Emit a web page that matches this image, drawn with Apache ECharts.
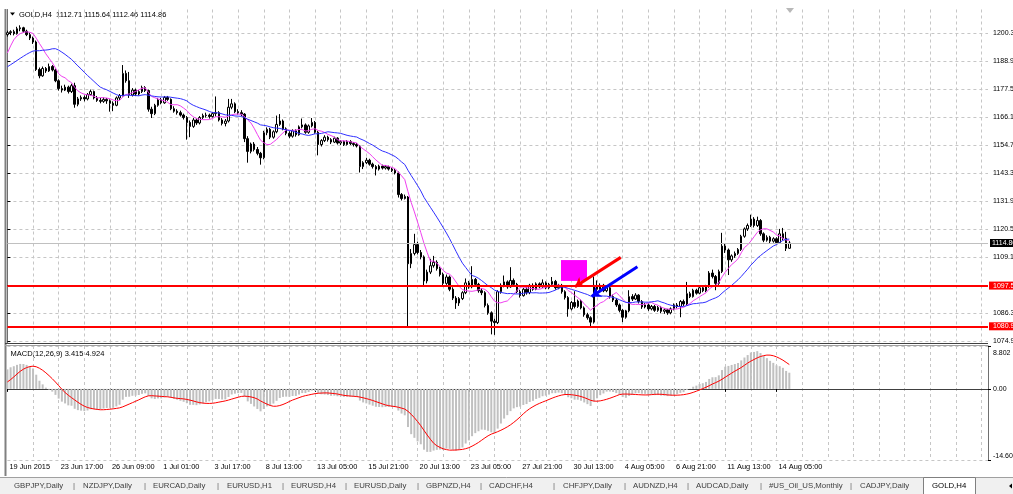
<!DOCTYPE html>
<html>
<head>
<meta charset="utf-8">
<script src="https://cdn.jsdelivr.net/npm/echarts@6.0.0/dist/echarts.min.js"></script>
<style>
html,body{margin:0;padding:0;background:#fff;}
#main{width:1013px;height:494px;}
</style>
</head>
<body>
<div id="main"></div>
<script>
// GOLD,H4 bars (bar 0 = 19 Jun 2015)
var opens = [
1199.8,1200.6,1201.0,1200.2,1202.2,1202.6,1201.2,1199.8,1198.4,1196.8,
1185.6,1183.0,1186.0,1185.0,1186.8,1185.4,1181.0,1177.8,1177.2,1178.4,
1176.6,1179.0,1171.4,1173.6,1174.2,1173.6,1175.4,1176.6,1174.0,1173.0,
1172.6,1173.4,1172.8,1171.8,1171.0,1174.0,1175.0,1184.0,1181.0,1175.2,
1177.2,1175.6,1176.6,1178.2,1177.0,1169.4,1167.6,1171.0,1173.2,1172.0,
1174.2,1173.4,1169.6,1168.6,1168.0,1167.0,1166.0,1164.0,1162.4,1165.0,
1163.8,1166.0,1166.8,1167.0,1166.4,1167.6,1168.0,1165.0,1163.6,1164.6,
1170.2,1171.6,1168.4,1168.0,1167.4,1157.4,1152.2,1155.2,1153.0,1151.4,
1149.6,1159.8,1161.2,1158.0,1160.2,1163.2,1164.6,1161.4,1159.6,1158.4,
1160.6,1159.0,1162.2,1163.0,1160.0,1162.6,1164.0,1160.0,1155.0,1156.6,
1158.0,1157.0,1156.0,1157.6,1155.6,1156.2,1155.0,1156.2,1155.4,1155.0,
1154.4,1146.0,1147.6,1148.6,1147.0,1146.0,1145.0,1146.2,1145.4,1146.0,
1145.0,1144.4,1143.4,1134.6,1133.0,1133.6,1106.4,1110.6,1114.2,1111.0,
1109.2,1099.4,1103.0,1105.6,1107.0,1104.4,1102.0,1098.4,1101.0,1096.0,
1092.4,1090.4,1092.2,1094.6,1098.6,1097.0,1100.0,1098.0,1095.4,1094.6,
1089.4,1086.4,1083.0,1082.4,1095.0,1097.6,1099.0,1097.0,1099.6,1098.0,
1095.0,1093.4,1096.0,1094.6,1097.6,1096.0,1098.2,1097.0,1098.6,1096.6,
1098.0,1099.2,1096.6,1097.6,1095.0,1092.6,1088.0,1090.6,1089.0,1091.2,
1088.4,1085.6,1084.4,1082.6,1097.6,1096.0,1097.6,1095.4,1096.6,1093.0,
1091.6,1089.6,1087.4,1084.6,1087.2,1093.0,1092.0,1093.6,1091.0,1088.8,
1089.6,1088.0,1089.0,1087.4,1088.6,1087.0,1087.6,1086.4,1088.0,1089.6,
1089.0,1091.0,1090.0,1094.2,1093.0,1095.6,1094.4,1096.6,1095.4,1097.2,
1102.6,1101.2,1098.4,1103.2,1113.6,1112.0,1108.0,1109.6,1110.6,1112.2,
1117.6,1120.6,1122.0,1124.6,1122.0,1124.0,1118.6,1116.0,1117.2,1115.6,
1116.6,1115.0,1118.6,1116.8,1112.71
];
var highs = [
1201.4,1201.6,1201.8,1203.0,1203.6,1203.0,1201.8,1200.6,1199.0,1197.4,
1186.4,1186.8,1186.6,1188.0,1187.4,1186.0,1181.6,1179.0,1179.4,1179.0,
1179.8,1180.2,1174.4,1175.0,1175.0,1176.0,1177.4,1177.0,1174.8,1174.0,
1174.2,1174.0,1173.4,1172.6,1174.6,1175.6,1187.4,1185.2,1184.6,1178.0,
1177.8,1177.2,1179.0,1178.8,1177.4,1170.4,1171.6,1174.0,1174.0,1174.8,
1174.8,1173.8,1170.6,1169.4,1168.8,1167.6,1166.6,1164.8,1165.8,1165.6,
1166.6,1167.6,1168.0,1167.6,1168.2,1174.6,1168.6,1165.8,1165.4,1173.6,
1173.6,1172.2,1169.4,1169.0,1167.8,1158.4,1155.8,1156.0,1154.0,1152.0,
1160.6,1162.0,1161.8,1160.8,1166.8,1167.4,1165.2,1162.0,1160.4,1161.2,
1161.2,1162.8,1165.6,1163.6,1163.2,1165.8,1164.6,1160.6,1157.2,1158.8,
1158.6,1157.6,1158.2,1158.0,1156.8,1156.6,1156.8,1156.8,1156.0,1155.6,
1154.8,1148.2,1149.6,1149.2,1147.6,1146.6,1146.8,1146.8,1146.6,1146.4,
1145.6,1145.0,1144.0,1135.2,1134.6,1134.0,1112.4,1118.6,1115.4,1112.0,
1109.8,1104.0,1108.4,1109.6,1107.8,1105.2,1102.8,1102.0,1101.6,1096.8,
1093.2,1092.8,1095.2,1100.4,1099.4,1105.4,1100.6,1098.6,1096.4,1095.2,
1090.2,1087.0,1084.0,1095.6,1098.4,1101.6,1099.6,1105.0,1100.4,1098.6,
1095.8,1096.6,1096.8,1098.2,1098.4,1098.8,1098.8,1100.0,1099.2,1098.6,
1101.0,1099.8,1098.2,1098.2,1095.6,1093.2,1091.2,1095.2,1091.8,1091.8,
1089.0,1086.4,1085.0,1101.2,1099.6,1098.4,1098.2,1097.2,1097.2,1093.8,
1092.4,1090.2,1088.0,1087.6,1095.6,1094.0,1094.4,1094.0,1091.6,1090.4,
1090.2,1089.6,1089.6,1089.2,1089.2,1088.2,1088.0,1088.6,1090.2,1090.4,
1091.6,1091.8,1099.0,1095.0,1096.2,1096.2,1097.2,1097.2,1097.8,1103.4,
1104.0,1101.8,1104.0,1119.0,1114.6,1112.6,1110.2,1111.4,1112.8,1118.2,
1121.2,1122.8,1126.4,1125.4,1125.6,1124.6,1119.2,1118.0,1117.8,1117.2,
1117.2,1120.6,1121.0,1119.4,1115.64
];
var lows = [
1199.0,1199.6,1199.5,1199.8,1201.2,1200.6,1199.2,1197.6,1196.0,1185.0,
1182.0,1182.6,1184.2,1184.6,1184.8,1180.4,1177.0,1176.2,1176.8,1175.8,
1176.0,1170.0,1170.6,1172.8,1172.6,1173.0,1175.0,1173.4,1172.4,1171.8,
1172.0,1171.6,1168.4,1168.6,1170.6,1173.2,1174.6,1180.2,1174.0,1174.6,
1174.8,1175.0,1176.0,1176.4,1168.4,1165.8,1167.0,1170.4,1171.4,1171.6,
1172.8,1169.0,1168.0,1167.2,1166.4,1165.2,1157.0,1158.0,1161.8,1163.0,
1163.2,1165.4,1166.0,1165.6,1166.0,1166.4,1164.4,1162.8,1162.4,1164.0,
1169.4,1167.8,1167.2,1166.6,1156.0,1147.6,1151.4,1152.2,1150.6,1146.8,
1149.0,1158.8,1157.2,1157.4,1159.6,1162.6,1160.8,1158.8,1157.6,1157.8,
1158.2,1158.6,1161.6,1159.4,1159.4,1162.0,1159.4,1150.6,1154.2,1156.0,
1156.2,1155.2,1155.6,1155.0,1154.8,1154.4,1154.6,1154.8,1154.2,1153.8,
1143.6,1145.0,1147.0,1146.4,1145.2,1142.4,1144.4,1144.8,1144.8,1144.4,
1143.8,1142.8,1133.4,1132.2,1132.6,1081.0,1104.6,1109.8,1110.2,1108.2,
1097.0,1098.4,1102.2,1104.8,1103.6,1101.2,1097.4,1097.8,1095.2,1091.6,
1088.0,1089.2,1091.6,1094.0,1096.2,1096.4,1097.2,1094.6,1093.6,1088.6,
1085.6,1077.6,1077.4,1081.8,1094.2,1096.8,1096.2,1096.6,1097.4,1094.4,
1092.6,1093.0,1093.8,1094.0,1095.4,1095.6,1096.4,1096.6,1096.0,1096.0,
1097.4,1095.8,1096.0,1094.2,1091.8,1084.8,1087.4,1088.2,1088.4,1087.8,
1084.8,1083.6,1080.2,1082.0,1095.2,1095.4,1094.8,1094.8,1092.2,1090.8,
1088.8,1086.6,1082.6,1084.0,1086.6,1091.2,1091.6,1090.2,1088.0,1088.2,
1087.2,1087.4,1086.8,1086.8,1086.2,1086.0,1085.6,1085.8,1087.4,1088.2,
1084.6,1089.2,1089.4,1092.4,1092.6,1093.8,1094.0,1094.8,1094.8,1096.6,
1100.4,1095.6,1097.8,1102.6,1110.8,1101.8,1107.2,1108.8,1110.0,1111.6,
1117.0,1119.8,1121.4,1121.2,1121.4,1117.8,1115.2,1115.4,1114.8,1115.0,
1114.4,1114.6,1116.0,1111.6,1112.46
];
var closes = [
1200.6,1201.0,1200.2,1202.2,1202.6,1201.2,1199.8,1198.4,1196.8,1185.6,
1183.0,1186.0,1185.0,1186.8,1185.4,1181.0,1177.8,1177.2,1178.4,1176.6,
1179.0,1171.4,1173.6,1174.2,1173.6,1175.4,1176.6,1174.0,1173.0,1172.6,
1173.4,1172.8,1171.8,1171.0,1174.0,1175.0,1184.0,1181.0,1175.2,1177.2,
1175.6,1176.6,1178.2,1177.0,1169.4,1167.6,1171.0,1173.2,1172.0,1174.2,
1173.4,1169.6,1168.6,1168.0,1167.0,1166.0,1164.0,1162.4,1165.0,1163.8,
1166.0,1166.8,1167.0,1166.4,1167.6,1168.0,1165.0,1163.6,1164.6,1170.2,
1171.6,1168.4,1168.0,1167.4,1157.4,1152.2,1155.2,1153.0,1151.4,1149.6,
1159.8,1161.2,1158.0,1160.2,1163.2,1164.6,1161.4,1159.6,1158.4,1160.6,
1159.0,1162.2,1163.0,1160.0,1162.6,1164.0,1160.0,1155.0,1156.6,1158.0,
1157.0,1156.0,1157.6,1155.6,1156.2,1155.0,1156.2,1155.4,1155.0,1154.4,
1146.0,1147.6,1148.6,1147.0,1146.0,1145.0,1146.2,1145.4,1146.0,1145.0,
1144.4,1143.4,1134.6,1133.0,1133.8,1106.4,1110.6,1114.2,1111.0,1109.2,
1099.4,1103.0,1105.6,1107.0,1104.4,1102.0,1098.4,1101.0,1096.0,1092.4,
1090.4,1092.2,1094.6,1098.6,1097.0,1100.0,1098.0,1095.4,1094.6,1089.4,
1086.4,1083.0,1082.4,1095.0,1097.6,1099.0,1097.0,1099.6,1098.0,1095.0,
1093.4,1096.0,1094.6,1097.6,1096.0,1098.2,1097.0,1098.6,1096.6,1098.0,
1099.2,1096.6,1097.6,1095.0,1092.6,1088.0,1090.6,1089.0,1091.2,1088.4,
1085.6,1084.4,1082.6,1097.6,1096.0,1097.6,1095.4,1096.6,1093.0,1091.6,
1089.6,1087.4,1084.6,1087.2,1093.0,1092.0,1093.6,1091.0,1088.8,1089.6,
1088.0,1089.0,1087.4,1088.6,1087.0,1087.6,1086.4,1088.0,1089.6,1089.0,
1091.0,1090.0,1094.2,1093.0,1095.6,1094.4,1096.6,1095.4,1097.2,1102.6,
1101.2,1098.4,1103.2,1113.6,1112.0,1108.0,1109.6,1110.6,1112.2,1117.6,
1120.6,1122.0,1124.6,1122.0,1124.0,1118.6,1116.0,1117.2,1115.6,1116.6,
1115.0,1118.6,1116.8,1112.7,1114.86
];
// closes before the first visible bar (only used to warm up the indicators)
var earlierCloses = [
1182.0,1183.4,1182.6,1181.2,1180.4,1181.8,1183.6,1184.8,1184.0,1182.8,
1181.6,1182.4,1183.8,1184.6,1183.2,1182.0,1181.4,1182.6,1183.8,1184.4,
1183.6,1182.8,1183.4,1184.2,1183.6,1182.8,1183.2,1184.0,1183.4,1182.6,
1182.2,1183.0,1183.6,1178.0,1180.0,1190.0,1195.0,1197.0,1198.0,1200.0
];

var dateLabels = ['19 Jun 2015','23 Jun 17:00','26 Jun 09:00','1 Jul 01:00','3 Jul 17:00',
  '8 Jul 13:00','13 Jul 05:00','15 Jul 21:00','20 Jul 13:00','23 Jul 05:00','27 Jul 21:00',
  '30 Jul 13:00','4 Aug 05:00','6 Aug 21:00','11 Aug 13:00','14 Aug 05:00'];
var priceTicks = [1074.95,1086.35,1097.75,1109.15,1120.55,1131.95,1143.35,1154.75,1166.15,1177.55,1188.95,1200.35];
var macdTicks = [-14.60, 0, 8.802];
var macdTickText = {'-14.6':'-14.60', '0':'0.00', '8.802':'8.802'};
var levels = [1097.50, 1080.90];
var lastPrice = 1114.86;
var tabNames = ['GBPJPY,Daily','NZDJPY,Daily','EURCAD,Daily','EURUSD,H1','EURUSD,H4','EURUSD,Daily',
  'GBPNZD,H4','CADCHF,H4','CHFJPY,Daily','AUDNZD,H4','AUDCAD,Daily','#US_Oil_US,Monthly','CADJPY,Daily'];
var activeTab = 'GOLD,H4';

// user drawn objects: [bar, price]
var boxCorners = [[172.75, 1107.9], [180.86, 1099.4]];
var redArrow = [[191.4, 1109.0], [177.1, 1097.0]];
var blueArrow = [[196.6, 1105.2], [182.3, 1093.0]];

var FONT = 'Liberation Sans';
var slotCount = 307;   // chart width incl. shift space, in bars
var labelStep = 16, gridStep = 8;

// indicators
var all = earlierCloses.concat(closes);
var pre = earlierCloses.length;
function sma(n) {
  return closes.map(function (c, i) {
    var s = 0;
    for (var k = 0; k < n; k++) s += all[pre + i - k];
    return +(s / n).toFixed(2);
  });
}
function ema(src, n) {
  var a = 2 / (n + 1), out = [], e = src[0];
  src.forEach(function (v, i) { e = i ? e + a * (v - e) : v; out.push(e); });
  return out;
}
var e12 = ema(all, 12), e26 = ema(all, 26);
var macdAll = all.map(function (v, i) { return e12[i] - e26[i]; });
var sigAll = macdAll.map(function (v, i) {
  if (i < 8) return null;
  var s = 0; for (var k = 0; k < 9; k++) s += macdAll[i - k];
  return s / 9;
});
var macd = macdAll.slice(pre).map(function (v) { return +v.toFixed(3); });
var signal = sigAll.slice(pre).map(function (v) { return +v.toFixed(3); });
var maFast = sma(8), maSlow = sma(21);

var slots = [];
for (var i = 0; i < slotCount; i++) slots.push(String(i));
var candles = closes.map(function (c, i) { return [opens[i], c, lows[i], highs[i]]; });

function gridLineAt(i) { return i > 0 && i % gridStep === 0; }
function dateAt(i) { return i % labelStep === 0 && i / labelStep < dateLabels.length; }

var dashed = { color: '#c6c6c6', type: [3, 3], width: 1 };

// tab bar
var tabX = [14, 83, 153, 227, 291, 354, 426, 489, 563, 633, 696, 769, 860];
var sepX = [73, 144, 217, 282, 345, 417, 480, 553, 624, 687, 760, 850];
var tabEls = [
  { type: 'rect', shape: { x: 0, y: 477, width: 1013, height: 17 }, style: { fill: '#f0f0f0' }, silent: true },
  { type: 'line', shape: { x1: 0, y1: 477.5, x2: 1013, y2: 477.5 }, style: { stroke: '#a0a0a0', lineWidth: 1 } },
  { type: 'rect', shape: { x: 923.5, y: 477.5, width: 52, height: 17 }, style: { fill: '#ffffff', stroke: '#808080', lineWidth: 1 } },
  { type: 'text', x: 932, y: 486, style: { text: activeTab, font: '7.8px ' + FONT, fill: '#000', verticalAlign: 'middle' } },
  { type: 'polygon', shape: { points: [[1009, 486], [1012, 483.5], [1012, 488.5]] }, style: { fill: '#000' } }
];
tabNames.forEach(function (t, k) {
  tabEls.push({ type: 'text', x: tabX[k], y: 486, style: { text: t, font: '7.8px ' + FONT, fill: '#404040', verticalAlign: 'middle' } });
});
sepX.forEach(function (x) {
  tabEls.push({ type: 'text', x: x, y: 486, style: { text: '|', font: '7.8px ' + FONT, fill: '#606060', verticalAlign: 'middle' } });
});

var chart = echarts.init(document.getElementById('main'));
chart.setOption({
  animation: false,
  backgroundColor: '#ffffff',
  textStyle: { fontFamily: FONT },
  grid: [
    { left: 7.4, right: 25, top: 9.5, height: 333.5, containLabel: false, outerBoundsMode: 'none' },
    { left: 7.4, right: 25, top: 346, height: 114, containLabel: false, outerBoundsMode: 'none' }
  ],
  xAxis: [
    { type: 'category', gridIndex: 0, data: slots, boundaryGap: false,
      axisLine: { show: false }, axisTick: { show: false }, axisLabel: { show: false },
      splitLine: { show: true, interval: gridLineAt, lineStyle: dashed } },
    { type: 'category', gridIndex: 1, data: slots, boundaryGap: false,
      axisLine: { show: true, lineStyle: { color: '#404040', width: 1 } },
      axisTick: { show: true, interval: dateAt, length: 3, lineStyle: { color: '#000' } },
      axisLabel: { interval: dateAt, align: 'left', margin: 3, padding: [0, 0, 0, 2], fontSize: 7.4, color: '#000', fontFamily: FONT,
        hideOverlap: false, formatter: function (v, idx) { return dateLabels[idx / labelStep]; } },
      splitLine: { show: true, interval: gridLineAt, lineStyle: dashed } },
    { type: 'value', gridIndex: 0, min: 0, max: slotCount - 1, show: false }
  ],
  yAxis: [
    { type: 'value', gridIndex: 0, position: 'right', min: 1074.09, max: 1210.05,
      axisLine: { show: true, lineStyle: { color: '#707070', width: 1 } },
      axisTick: { show: true, customValues: priceTicks, length: 3, lineStyle: { color: '#000' } },
      axisLabel: { customValues: priceTicks, margin: 5, fontSize: 7, color: '#000', fontFamily: FONT,
        formatter: function (v) { return v.toFixed(2); } },
      splitLine: { show: true, lineStyle: dashed } },
    { type: 'value', gridIndex: 1, position: 'right', min: -14.60, max: 8.802,
      axisLine: { show: true, lineStyle: { color: '#707070', width: 1 } },
      axisTick: { show: true, customValues: macdTicks, length: 3, lineStyle: { color: '#000' } },
      axisLabel: { customValues: macdTicks, margin: 5, fontSize: 7, color: '#000', fontFamily: FONT,
        formatter: function (v) {
          var t = macdTickText[String(+v.toFixed(3))] || v.toFixed(2);
          if (v > 8) return '{top|' + t + '}';
          if (v < -14) return '{bot|' + t + '}';
          return t;
        },
        rich: { top: { padding: [14, 0, 0, 0], fontSize: 7 }, bot: { padding: [0, 0, 7, 0], fontSize: 7 } } },
      splitLine: { show: true, lineStyle: dashed } }
  ],
  series: [
    { type: 'candlestick', xAxisIndex: 0, yAxisIndex: 0, data: candles, barWidth: 2,
      itemStyle: { color: '#ffffff', color0: '#000000', borderColor: '#000000', borderColor0: '#000000', borderWidth: 1 },
      markLine: { silent: true, symbol: 'none', animation: false,
        data: [
          { yAxis: lastPrice, lineStyle: { color: '#c0c0c0', width: 1, type: 'solid' },
            label: { show: true, position: 'end', distance: 2, formatter: lastPrice.toFixed(2), color: '#fff', backgroundColor: '#000',
              padding: [1, 2, 0, 2], fontSize: 7, fontFamily: FONT } }
        ].concat(levels.map(function (l) {
          return { yAxis: l, lineStyle: { color: '#ff0000', width: 2, type: 'solid' },
            label: { show: true, position: 'end', distance: 1, formatter: l.toFixed(2), color: '#fff', backgroundColor: '#ff0000',
              padding: [1, 2, 0, 4], fontSize: 7, fontFamily: FONT } };
        })) } },
    { type: 'line', xAxisIndex: 0, yAxisIndex: 0, data: maFast, showSymbol: false, symbol: 'none',
      lineStyle: { color: '#f040f0', width: 1 }, z: 3 },
    { type: 'line', xAxisIndex: 0, yAxisIndex: 0, data: maSlow, showSymbol: false, symbol: 'none',
      lineStyle: { color: '#3030ff', width: 1 }, z: 3 },
    { type: 'line', xAxisIndex: 2, yAxisIndex: 0, data: [], z: 5,
      markArea: { silent: true, itemStyle: { color: '#ff00ff', opacity: 1 },
        data: [[{ coord: boxCorners[0] }, { coord: boxCorners[1] }]] },
      markLine: { silent: true, symbol: ['none', 'arrow'], symbolSize: 9, animation: false,
        label: { show: false },
        data: [
          [{ coord: redArrow[0], lineStyle: { color: '#ff0000', width: 3, type: 'solid' } }, { coord: redArrow[1] }],
          [{ coord: blueArrow[0], lineStyle: { color: '#0000ff', width: 3, type: 'solid' } }, { coord: blueArrow[1] }]
        ] } },
    { type: 'bar', xAxisIndex: 1, yAxisIndex: 1, data: macd, barWidth: 2, itemStyle: { color: '#c0c0c0' } },
    { type: 'line', xAxisIndex: 1, yAxisIndex: 1, data: signal, showSymbol: false, symbol: 'none',
      lineStyle: { color: '#ff0000', width: 1 } }
  ],
  graphic: [
    { type: 'line', shape: { x1: 5.5, y1: 9, x2: 5.5, y2: 476 }, style: { stroke: '#808080', lineWidth: 2 } },
    { type: 'line', shape: { x1: 5, y1: 343.5, x2: 988, y2: 343.5 }, style: { stroke: '#404040', lineWidth: 1 } },
    { type: 'line', shape: { x1: 5, y1: 345.5, x2: 988, y2: 345.5 }, style: { stroke: '#a0a0a0', lineWidth: 1 } },
    { type: 'polygon', shape: { points: [[10, 12.5], [15, 12.5], [12.5, 15.5]] }, style: { fill: '#000' } },
    { type: 'text', x: 19, y: 14.5, style: { text: 'GOLD,H4  1112.71 1115.64 1112.46 1114.86', font: '7.5px ' + FONT, fill: '#000', verticalAlign: 'middle' } },
    { type: 'polygon', shape: { points: [[786, 8], [794, 8], [790, 13]] }, style: { fill: '#b8b8b8' } },
    { type: 'text', x: 10.5, y: 353.5, style: { text: 'MACD(12,26,9) 3.415 4.924', font: '7.5px ' + FONT, fill: '#000', verticalAlign: 'middle' } }
  ].concat(tabEls)
});
</script>
</body>
</html>
